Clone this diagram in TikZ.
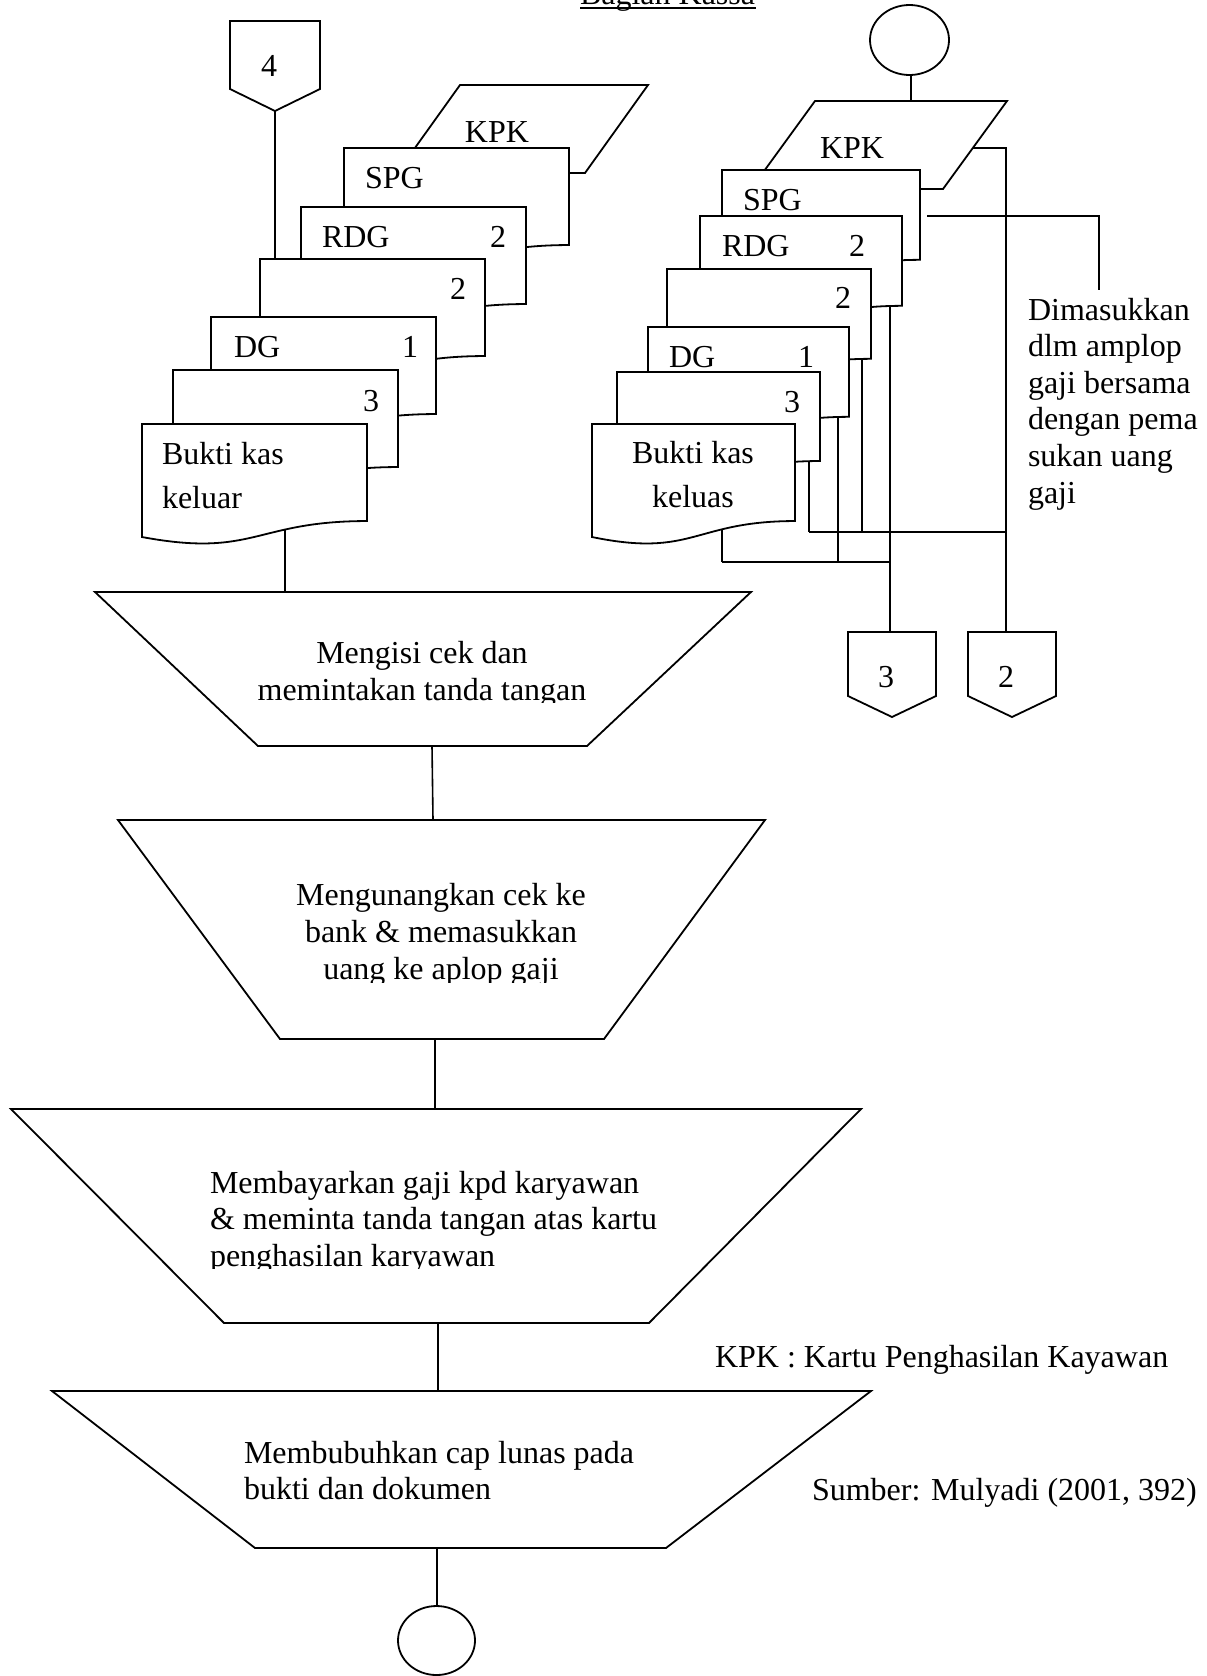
\documentclass[tikz,border=0pt]{standalone}
\usepackage{fontspec}
\setmainfont{Liberation Serif}

% document symbol with wavy bottom: x, y (top-left), width, height
\newcommand\docshape[4]{%
  \draw[shapeline] (#1,#2) -- ({#1+#3},#2) -- ({#1+#3},{#2+0.802*#4})
    .. controls ({#1+0.5*#3},{#2+0.802*#4}) and ({#1+0.5*#3},{#2+1.1075*#4})
    .. (#1,{#2+0.934*#4}) -- cycle;}

% off-page connector: left x, right x, top y, side bottom y, tip y
\newcommand\offpage[5]{%
  \draw[shapeline] (#1,#3) -- (#2,#3) -- (#2,#4) -- ({0.5*(#1+#2)},#5) -- (#1,#4) -- cycle;}

\begin{document}
\begin{tikzpicture}[x=1pt,y=-1pt,
  shapeline/.style={draw=black,line width=1.8pt,fill=white,line join=miter},
  link/.style={draw=black,line width=1.6pt},
  txt/.style={inner sep=0pt,outer sep=0pt,font=\fontsize{32}{37}\selectfont},
]
\useasboundingbox (0,0) rectangle (1207,1676);

% ---------------- heading ----------------
\node[txt,anchor=base west] (title) at (580,4.5) {Bagian Kassa};
\draw[line width=2pt] (580,7.5) -- (756,7.5);

% ---------------- left stack ----------------
\coordinate (c4tip) at (275,111);
\coordinate (ltwotop) at (275,259);
\coordinate (lbkout) at (285,500);
\coordinate (t1top) at (285,592);
\draw[link] (c4tip) -- (ltwotop);
\draw[link] (lbkout) -- (t1top);

\offpage{230}{320}{21}{89}{111}
\node[txt,anchor=base] (n4) at (269,76) {4};

\draw[shapeline] (460,85) -- (648,85) -- (585,173) -- (397,173) -- cycle;
\node[txt,anchor=base] (lkpk) at (497,142) {KPK};

\docshape{344}{148}{225}{121}
\node[txt,anchor=base west] (lspg) at (365,188) {SPG};
\docshape{301}{207}{225}{121}
\node[txt,anchor=base west] (lrdg) at (322,247) {RDG};
\node[txt,anchor=base west] (lrdgn) at (490,247) {2};
\docshape{260}{259}{225}{121}
\node[txt,anchor=base west] (ltwon) at (450,299) {2};
\docshape{211}{317}{225}{121}
\node[txt,anchor=base west] (ldg) at (234,357) {DG};
\node[txt,anchor=base west] (ldgn) at (402,357) {1};
\docshape{173}{370}{225}{121}
\node[txt,anchor=base west] (lthreen) at (363,411) {3};
\docshape{142}{424}{225}{121}
% multi-line nodes: the base anchor sits on the last line
\node[txt,anchor=base west,align=left,font=\fontsize{32}{44}\selectfont] (lbk) at (162,508) {Bukti kas\\keluar};

% ---------------- right stack ----------------
\coordinate (rcircb) at (911,75);
\coordinate (rkpktop) at (911,101);
\draw[link] (rcircb) -- (rkpktop);

\coordinate (rkpkout) at (950,148);
\coordinate (rkpkbend) at (1006,148);
\coordinate (rspgout) at (927,216);
\coordinate (rspgbend) at (1099,216);
\coordinate (notetop) at (1099,290);
\coordinate (rrdgout) at (890,280);
\coordinate (rtwoout) at (862,340);
\coordinate (rdgout) at (838,400);
\coordinate (rthreeout) at (809,440);
\coordinate (rbkout) at (722,510);
\coordinate (upL) at (809,532);
\coordinate (upM) at (862,532);
\coordinate (upR) at (1006,532);
\coordinate (loL) at (722,562);
\coordinate (loM) at (838,562);
\coordinate (loR) at (890,562);
\coordinate (c3top) at (890,632);
\coordinate (c2top) at (1006,632);

\draw[link] (rkpkout) -- (rkpkbend) -- (c2top);
\draw[link] (rspgout) -- (rspgbend) -- (notetop);
\draw[link] (rrdgout) -- (c3top);
\draw[link] (rtwoout) -- (upM);
\draw[link] (rdgout) -- (loM);
\draw[link] (rthreeout) -- (upL);
\draw[link] (rbkout) -- (loL);
\draw[link] (upL) -- (upR);
\draw[link] (loL) -- (loR);

\draw[shapeline] (909.5,40) ellipse [x radius=39.5, y radius=35];
\node[inner sep=0pt] (rstart) at (909.5,40) {};

\draw[shapeline] (815,101) -- (1007,101) -- (943,189) -- (751,189) -- cycle;
\node[txt,anchor=base] (rkpk) at (852,158) {KPK};

\docshape{722}{170}{198}{112}
\node[txt,anchor=base west] (rspg) at (743,210) {SPG};
\docshape{700}{216}{202}{112}
\node[txt,anchor=base west] (rrdg) at (722,256) {RDG};
\node[txt,anchor=base west] (rrdgn) at (849,256) {2};
\docshape{667}{269}{204}{112}
\node[txt,anchor=base west] (rtwon) at (835,308) {2};
\docshape{648}{327}{201}{112}
\node[txt,anchor=base west] (rdg) at (669,367) {DG};
\node[txt,anchor=base west] (rdgn) at (798,367) {1};
\docshape{617}{372}{203}{111}
\node[txt,anchor=base west] (rthreen) at (784,412) {3};
\docshape{592}{424}{203}{121}
\node[txt,anchor=base,align=center,font=\fontsize{32}{44}\selectfont] (rbk) at (693,507) {Bukti kas\\keluas};

\node[txt,anchor=base west,align=left,font=\fontsize{32}{36.6}\selectfont] (note) at (1028,503)
  {Dimasukkan\\dlm amplop\\gaji bersama\\dengan pema\\sukan uang\\gaji};

\offpage{848}{936}{632}{696}{717}
\node[txt,anchor=base] (n3) at (886,687) {3};
\offpage{968}{1056}{632}{696}{717}
\node[txt,anchor=base] (n2) at (1006,687) {2};

% ---------------- manual operations ----------------
\draw[shapeline] (95,592) -- (751,592) -- (587,746) -- (258,746) -- cycle;
\begin{scope}
  \clip (95,592) rectangle (751,702);
  \node[txt,anchor=base,align=center] (op1) at (422,700) {Mengisi cek dan\\memintakan tanda tangan};
\end{scope}

\draw[shapeline] (118,820) -- (765,820) -- (604,1039) -- (280,1039) -- cycle;
\begin{scope}
  \clip (118,820) rectangle (765,982);
  \node[txt,anchor=base,align=center] (op2) at (441,979) {Mengunangkan cek ke\\bank \& memasukkan\\uang ke aplop gaji};
\end{scope}

\draw[shapeline] (11,1109) -- (861,1109) -- (649,1323) -- (224,1323) -- cycle;
\begin{scope}
  \clip (11,1109) rectangle (861,1268);
  \node[txt,anchor=base west,align=left,font=\fontsize{32}{36.5}\selectfont] (op3) at (210,1266)
    {Membayarkan gaji kpd karyawan\\\& meminta tanda tangan atas kartu\\penghasilan karyawan};
\end{scope}

\draw[shapeline] (52,1391) -- (871,1391) -- (666,1548) -- (255,1548) -- cycle;
\node[txt,anchor=base west,align=left,font=\fontsize{32}{36}\selectfont] (op4) at (244,1499)
  {Membubuhkan cap lunas pada\\bukti dan dokumen};

\coordinate (t1bot) at (432,746);
\coordinate (t2top) at (433,820);
\coordinate (t2bot) at (435,1039);
\coordinate (t3top) at (435,1109);
\coordinate (t3bot) at (438,1323);
\coordinate (t4top) at (438,1391);
\coordinate (t4bot) at (437,1548);
\coordinate (endtop) at (437,1606);
\draw[link] (t1bot) -- (t2top);
\draw[link] (t2bot) -- (t3top);
\draw[link] (t3bot) -- (t4top);
\draw[link] (t4bot) -- (endtop);

\draw[shapeline] (436.5,1640.5) ellipse [x radius=38.5, y radius=34.5];
\node[inner sep=0pt] (rend) at (436.5,1640.5) {};

% ---------------- notes ----------------
\node[txt,anchor=base west] (legend) at (715,1367) {KPK : Kartu Penghasilan Kayawan};
\node[txt,anchor=base west] (source) at (812,1500) {Sumber: Mulyadi (2001, 392)};

\end{tikzpicture}
\end{document}
